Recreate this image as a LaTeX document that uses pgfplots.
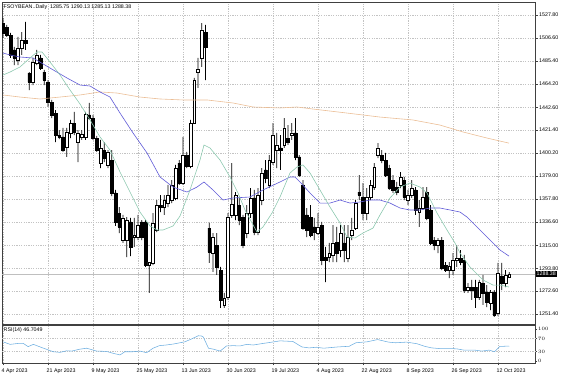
\documentclass[border=0pt]{standalone}
\usepackage{pgfplots}
\pgfplotsset{compat=1.18}
\usepackage{pgfplotstable}
\usepackage{fontspec}
\setmainfont{Liberation Sans}
\newcommand\lab{\fontsize{5.3}{6}\selectfont}
\definecolor{gridc}{RGB}{195,195,195}
\definecolor{maG}{RGB}{140,200,175}
\definecolor{maB}{RGB}{95,90,215}
\definecolor{maO}{RGB}{235,190,150}
\definecolor{rsic}{RGB}{110,175,225}
\pgfplotstableread{
i o h l c
0 1520.4 1525.1 1506.6 1511.2
1 1516.7 1518.6 1507.5 1509.3
2 1509.3 1511.2 1488.1 1490.9
3 1495.5 1498.3 1481.6 1488.1
4 1486.2 1507.5 1481.6 1497.3
5 1497.3 1512.1 1490.9 1504.7
6 1504.7 1521.4 1495.5 1502.0
7 1474.2 1475.1 1458.5 1465.9
8 1465.9 1488.1 1463.1 1484.4
9 1483.5 1495.5 1481.6 1490.9
10 1488.1 1490.9 1477.0 1478.8
11 1475.1 1477.0 1463.1 1467.7
12 1465.9 1467.7 1442.8 1447.4
13 1447.4 1449.3 1432.6 1435.4
14 1437.2 1440.0 1410.4 1416.9
15 1416.9 1421.5 1413.2 1415.1
16 1415.1 1423.4 1401.2 1403.0
17 1405.8 1423.4 1396.6 1419.7
18 1418.8 1430.8 1414.1 1428.0
19 1428.0 1438.2 1416.9 1419.7
20 1410.4 1421.5 1391.9 1418.8
21 1415.1 1421.5 1412.3 1417.8
22 1415.1 1438.2 1412.3 1436.3
23 1435.4 1446.5 1430.8 1432.6
24 1432.6 1435.4 1412.3 1414.1
25 1414.1 1416.0 1401.2 1403.0
26 1391.0 1412.3 1386.4 1404.9
27 1403.0 1410.4 1391.9 1395.6
28 1389.2 1403.0 1386.4 1401.2
29 1393.8 1403.0 1360.5 1363.3
30 1363.3 1366.1 1332.8 1336.5
31 1344.8 1350.3 1326.3 1331.9
32 1319.8 1343.0 1317.1 1340.2
33 1319.8 1341.1 1304.1 1338.3
34 1336.5 1340.2 1305.0 1313.4
35 1322.6 1340.2 1313.4 1324.4
36 1322.6 1343.0 1319.8 1333.7
37 1336.5 1338.3 1319.8 1322.6
38 1336.5 1338.3 1294.9 1296.7
39 1296.7 1299.5 1270.9 1299.5
40 1298.6 1344.8 1296.7 1335.6
41 1329.1 1356.8 1327.2 1352.2
42 1352.2 1361.4 1345.7 1350.3
43 1350.3 1361.4 1343.0 1356.8
44 1354.0 1370.7 1350.3 1361.4
45 1356.8 1375.3 1354.0 1370.7
46 1358.7 1389.2 1356.8 1386.4
47 1391.0 1393.8 1370.7 1372.5
48 1372.5 1415.1 1370.7 1398.4
49 1398.4 1401.2 1386.4 1388.3
50 1388.3 1430.8 1386.4 1428.0
51 1428.0 1469.6 1427.1 1467.7
52 1475.1 1488.1 1460.4 1477.9
53 1488.1 1520.4 1479.8 1514.0
54 1512.1 1518.6 1467.7 1498.3
55 1330.9 1335.6 1298.6 1308.7
56 1307.8 1326.3 1290.3 1322.6
57 1315.2 1326.3 1287.5 1294.9
58 1292.1 1294.9 1257.0 1264.4
59 1259.8 1270.9 1257.0 1266.2
60 1267.2 1344.8 1264.4 1341.1
61 1343.0 1391.0 1340.2 1353.1
62 1343.0 1364.2 1338.3 1361.4
63 1352.2 1358.7 1333.7 1338.3
64 1341.1 1343.0 1312.4 1315.2
65 1326.3 1352.2 1321.7 1344.8
66 1344.8 1367.9 1340.2 1358.7
67 1358.7 1366.1 1324.4 1327.2
68 1327.2 1367.9 1324.4 1361.4
69 1356.8 1386.4 1352.2 1381.8
70 1384.6 1393.8 1372.5 1377.2
71 1370.7 1398.4 1367.9 1393.8
72 1391.9 1428.0 1389.2 1416.9
73 1403.0 1418.8 1386.4 1407.7
74 1404.9 1416.9 1384.6 1403.0
75 1407.7 1432.6 1404.9 1423.4
76 1414.1 1426.1 1407.7 1410.4
77 1416.9 1428.0 1412.3 1418.8
78 1418.8 1432.6 1393.8 1396.6
79 1396.6 1398.4 1378.1 1379.9
80 1370.7 1375.3 1329.1 1330.9
81 1343.0 1349.4 1322.6 1329.1
82 1341.1 1352.2 1322.6 1324.4
83 1331.9 1340.2 1319.8 1327.2
84 1326.3 1344.8 1324.4 1331.9
85 1333.7 1336.5 1296.7 1301.3
86 1304.1 1313.4 1281.0 1301.3
87 1304.1 1317.1 1299.5 1307.8
88 1306.0 1333.7 1299.5 1317.1
89 1318.0 1331.9 1299.5 1307.8
90 1310.6 1333.7 1304.1 1326.3
91 1317.1 1333.7 1299.5 1310.6
92 1303.2 1333.7 1299.5 1322.6
93 1324.4 1340.2 1319.8 1329.1
94 1330.9 1356.8 1329.1 1354.0
95 1364.2 1379.9 1356.8 1361.4
96 1359.6 1372.5 1338.3 1344.8
97 1344.8 1367.9 1338.3 1359.6
98 1359.6 1375.3 1356.8 1370.7
99 1368.8 1391.0 1366.1 1387.3
100 1398.4 1409.5 1395.6 1404.9
101 1398.4 1403.0 1391.0 1393.8
102 1393.8 1400.3 1378.1 1379.9
103 1386.4 1389.2 1366.1 1367.9
104 1375.3 1379.9 1363.3 1366.1
105 1368.8 1373.5 1361.4 1364.2
106 1370.7 1382.7 1367.9 1378.1
107 1375.3 1378.1 1356.8 1359.6
108 1356.8 1366.1 1352.2 1361.4
109 1361.4 1375.3 1358.7 1367.9
110 1366.1 1368.8 1343.0 1347.6
111 1345.7 1356.8 1331.9 1349.4
112 1349.4 1368.8 1347.6 1359.6
113 1364.2 1368.8 1338.3 1340.2
114 1347.6 1352.2 1315.2 1317.1
115 1319.8 1322.6 1310.6 1315.2
116 1315.2 1321.7 1307.8 1319.8
117 1319.8 1322.6 1292.1 1294.0
118 1296.7 1299.5 1290.3 1292.1
119 1292.1 1299.5 1284.7 1295.8
120 1292.1 1307.8 1287.5 1301.3
121 1301.3 1315.2 1294.9 1303.2
122 1303.2 1310.6 1296.7 1299.5
123 1301.3 1306.0 1270.9 1273.6
124 1273.6 1280.1 1270.9 1276.4
125 1276.4 1282.9 1264.4 1273.6
126 1276.4 1282.9 1257.0 1267.2
127 1267.2 1282.9 1264.4 1281.0
128 1280.1 1287.5 1259.8 1270.9
129 1271.8 1278.2 1257.9 1262.5
130 1261.6 1273.6 1255.1 1271.8
131 1271.8 1273.6 1248.7 1250.5
132 1252.4 1298.6 1249.6 1289.3
133 1286.6 1298.6 1273.6 1280.1
134 1280.1 1292.1 1276.4 1287.5
135 1285.75 1290.13 1285.13 1288.38
}\candles
\begin{document}
\begin{tikzpicture}
\path[use as bounding box] (0,0) rectangle (564pt,376pt);
\pgfplotsset{panel/.style={scale only axis, width=533pt, height=322pt, at={(2pt,52pt)}, anchor=south west,
  xmin=-0.27, xmax=141.87, ymin=1242.2, ymax=1539.85}}
% base panel: grid, frame, price scale
\begin{axis}[panel, clip=false,
  xtick={0,12,...,132}, xticklabels={}, major x tick style={draw=none},
  ytick={1527.8,1506.6,1485.4,1464.2,1442.6,1421.4,1400.2,1379.0,1357.8,1336.6,1315.0,1293.8,1272.6,1251.4},
  yticklabels={1527.80,1506.60,1485.40,1464.20,1442.60,1421.40,1400.20,1379.00,1357.80,1336.60,1315.00,1293.80,1272.60,1251.40},
  ytick pos=right, yticklabel pos=right, tick align=outside, major tick length=3pt,
  yticklabel style={font=\lab, anchor=west, inner xsep=1pt},
  grid=major, major grid style={gridc, dash pattern=on 1.2pt off 1.2pt, line width=0.4pt},
  axis line style={black!75, line width=0.6pt}, tick style={black!75, line width=0.4pt}]
\addplot[black!25, line width=0.7pt] coordinates {(-0.27,1288.38) (141.87,1288.38)};
\node[fill=black, text=white, font=\lab, inner xsep=1pt, inner ysep=0.8pt, anchor=west] at (axis cs:141.87,1288.38) [xshift=0.5pt] {1288.38};
\node[anchor=north west, font=\lab, inner sep=0pt] at (axis cs:-0.27,1539.85) [xshift=1.5pt, yshift=-2.5pt] {FSOYBEAN..Daily\ \ 1285.75 1290.13 1285.13 1288.38};
\end{axis}
% wicks
\begin{axis}[panel, hide axis, ybar stacked, bar width=0.75pt]
\addplot[draw=none, fill=none] table[x=i, y=l] {\candles};
\addplot[draw=none, fill=black] table[x=i, y expr=\thisrow{h}-\thisrow{l}] {\candles};
\end{axis}
% bodies
\begin{axis}[panel, hide axis, ybar stacked, bar width=2.6pt]
\addplot[draw=none, fill=none] table[x=i, y expr={min(\thisrow{o},\thisrow{c})}] {\candles};
\addplot[draw=black, fill=white, line width=0.45pt] table[x=i, y expr={max(\thisrow{c}-\thisrow{o},0)}] {\candles};
\addplot[draw=black, fill=black, line width=0.45pt] table[x=i, y expr={max(\thisrow{o}-\thisrow{c},0)}] {\candles};
\end{axis}
% moving averages
\begin{axis}[panel, hide axis]
\addplot[maO, line width=0.6pt] coordinates {(0,1453.9) (4.53,1452.0) (9.87,1450.2) (15.2,1452.0) (20.53,1453.9) (25.87,1456.7) (30.4,1455.7) (36.53,1452.0) (41.87,1450.2) (48.0,1449.3) (54.4,1449.3) (61.33,1446.5) (66.67,1442.8) (73.87,1441.9) (78.4,1442.8) (82.67,1440.9) (91.73,1437.2) (100.53,1433.5) (109.33,1430.8) (116.53,1426.1) (122.67,1419.7) (129.07,1414.1) (134.93,1409.4)};
\addplot[maB, line width=0.6pt] coordinates {(0,1492.7) (1.87,1490.9) (4.53,1489.0) (8.0,1488.1) (12.53,1478.8) (17.07,1469.6) (20.53,1463.1) (23.2,1462.2) (25.87,1456.7) (28.53,1452.0) (31.2,1437.2) (34.67,1418.8) (38.4,1400.3) (41.87,1378.1) (45.33,1368.8) (49.07,1364.2) (51.73,1368.8) (53.6,1373.5) (56.0,1366.1) (58.67,1356.8) (61.33,1358.7) (65.87,1359.6) (69.33,1366.1) (73.87,1373.5) (76.53,1378.1) (77.87,1378.1) (79.2,1373.5) (81.87,1363.3) (84.53,1354.0) (87.2,1354.0) (89.87,1356.8) (92.53,1354.0) (95.2,1355.0) (97.87,1356.8) (100.53,1356.8) (103.2,1354.0) (105.87,1349.4) (108.53,1347.6) (111.2,1347.6) (113.87,1349.4) (116.53,1349.4) (119.2,1347.6) (121.87,1345.7) (123.73,1341.1) (127.2,1329.1) (129.87,1319.8) (132.53,1310.6) (134.93,1305.0)};
\addplot[maG, line width=0.6pt] coordinates {(0,1472.4) (1.87,1475.1) (4.53,1479.8) (7.2,1488.1) (9.07,1493.6) (10.4,1493.6) (12.53,1484.4) (15.2,1472.4) (17.87,1458.5) (20.53,1445.6) (23.2,1430.8) (25.87,1415.1) (28.53,1403.0) (31.2,1382.7) (33.87,1364.2) (36.53,1345.7) (39.2,1332.8) (41.07,1329.1) (42.67,1329.1) (45.33,1332.8) (47.2,1342.0) (49.87,1366.1) (52.53,1393.8) (53.6,1407.7) (55.2,1404.9) (57.87,1393.8) (60.53,1378.1) (62.67,1363.3) (64.53,1347.6) (66.4,1335.6) (67.73,1327.2) (69.33,1331.9) (71.73,1344.8) (73.87,1359.6) (76.53,1381.8) (78.4,1387.3) (80.0,1389.2) (81.87,1381.8) (84.53,1366.1) (87.2,1350.3) (89.87,1335.6) (91.73,1322.6) (93.87,1321.7) (96.0,1326.3) (98.67,1330.9) (100.53,1343.0) (103.2,1358.7) (105.87,1368.8) (108.53,1372.5) (111.2,1368.8) (113.07,1363.3) (115.73,1344.8) (118.4,1329.1) (120.53,1317.1) (121.87,1307.8) (124.53,1294.9) (128.0,1282.9) (130.67,1278.2) (132.53,1278.2) (134.93,1276.4)};
\end{axis}
% RSI panel
\begin{axis}[scale only axis, width=533pt, height=38pt, at={(2pt,13pt)}, anchor=south west,
  xmin=-0.27, xmax=141.87, ymin=-6.25, ymax=112.5, clip=false,
  xtick={0,12,...,132},
  xticklabels={4 Apr 2023,21 Apr 2023,9 May 2023,25 May 2023,13 Jun 2023,30 Jun 2023,19 Jul 2023,4 Aug 2023,22 Aug 2023,8 Sep 2023,26 Sep 2023,12 Oct 2023},
  xtick pos=bottom, xticklabel style={font=\lab, anchor=north west, inner xsep=0pt, xshift=-1.5pt},
  ytick={0,30,70,100}, ytick pos=right, yticklabel pos=right,
  yticklabel style={font=\lab, anchor=west, inner xsep=1pt},
  tick align=outside, major tick length=2pt,
  xmajorgrids, major grid style={gridc, dash pattern=on 1.2pt off 1.2pt, line width=0.4pt},
  axis line style={black!75, line width=0.6pt}, tick style={black!75, line width=0.4pt}]
\addplot[gridc, dash pattern=on 1.2pt off 1.2pt, line width=0.4pt] coordinates {(-0.27,30) (141.87,30)};
\addplot[gridc, dash pattern=on 1.2pt off 1.2pt, line width=0.4pt] coordinates {(-0.27,70) (141.87,70)};
\addplot[rsic, line width=0.55pt] coordinates {(0,60) (1.9,52) (4.1,55) (5.4,55) (6.7,45) (8.1,52) (10.8,40) (13.4,29) (15.2,27) (17,32) (18.3,31) (20.5,37) (22.3,40) (25,31) (27.6,30) (29.4,24) (31.2,19) (32.5,29) (34.7,29) (36.5,31) (38.3,26) (40,40) (41.7,48) (43.5,50) (45.4,53) (47.2,57) (48.5,60) (50.3,69) (52.1,79) (53,78) (53.4,75) (54.8,40) (56.1,37) (57.9,31) (59.6,47) (61.4,48) (63.2,47) (65,52) (66.7,50) (69.4,55) (71.2,58) (73.9,63) (77.3,61) (79.7,44) (81.6,41) (83.6,43) (85.5,40) (89.3,44) (92.3,46) (94.1,57) (97.1,60) (99.9,67) (102.8,59) (104.7,57) (107.6,59) (110.4,54) (112.4,46) (114.3,41) (116.3,39) (119.1,39) (121,38) (122.9,34) (125.8,34) (127.7,31) (129.6,34) (131.1,29) (132.5,46) (133.5,46) (135,46.7)};
\node[anchor=north west, font=\lab, inner sep=0pt] at (axis cs:-0.27,112.5) [xshift=1.5pt, yshift=-2pt] {RSI(14) 46.7049};
\end{axis}
\end{tikzpicture}
\end{document}
